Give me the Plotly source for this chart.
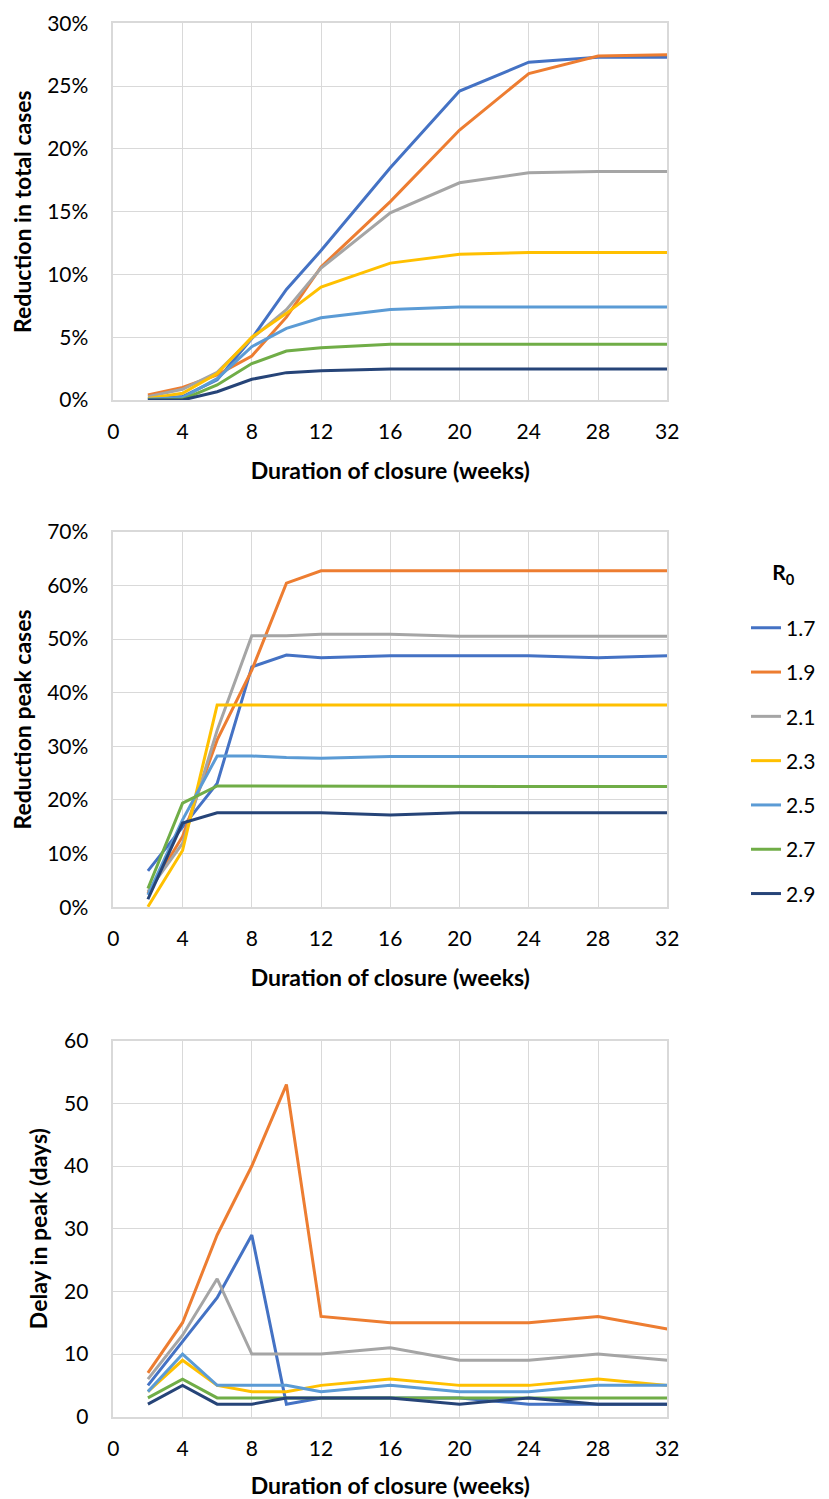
import plotly.graph_objects as go

weeks = [2, 4, 6, 8, 10, 12, 16, 20, 24, 28, 32]
r0_labels = ["1.7", "1.9", "2.1", "2.3", "2.5", "2.7", "2.9"]
colors = ["#4472C4", "#ED7D31", "#A5A5A5", "#FFC000", "#5B9BD5", "#70AD47", "#264478"]

# Reduction in total cases (%)
total_cases = {
    "1.7": [0.05, 0.27, 1.6, 4.9, 8.8, 11.9, 18.5, 24.6, 26.9, 27.3, 27.3],
    "1.9": [0.4, 1.0, 2.0, 3.5, 6.6, 10.6, 15.8, 21.5, 26.0, 27.4, 27.5],
    "2.1": [0.27, 0.85, 2.2, 4.9, 7.2, 10.5, 14.9, 17.3, 18.1, 18.2, 18.2],
    "2.3": [0.13, 0.53, 2.1, 5.0, 6.9, 9.0, 10.9, 11.6, 11.75, 11.75, 11.75],
    "2.5": [0.05, 0.2, 1.7, 4.25, 5.7, 6.55, 7.2, 7.4, 7.4, 7.4, 7.4],
    "2.7": [0.0, 0.05, 1.2, 2.9, 3.9, 4.17, 4.43, 4.43, 4.43, 4.43, 4.43],
    "2.9": [0.0, 0.0, 0.66, 1.65, 2.18, 2.33, 2.47, 2.47, 2.47, 2.47, 2.47],
}

# Reduction in peak cases (%)
peak_cases = {
    "1.7": [6.8, 15.0, 23.1, 44.8, 47.0, 46.5, 46.9, 46.9, 46.9, 46.5, 46.9],
    "1.9": [2.6, 13.2, 31.2, 44.2, 60.4, 62.7, 62.7, 62.7, 62.7, 62.7, 62.7],
    "2.1": [2.9, 11.9, 33.0, 50.6, 50.6, 50.9, 50.9, 50.5, 50.5, 50.5, 50.5],
    "2.3": [0.1, 10.6, 37.7, 37.7, 37.7, 37.7, 37.7, 37.7, 37.7, 37.7, 37.7],
    "2.5": [2.3, 16.3, 28.2, 28.2, 27.9, 27.8, 28.1, 28.1, 28.1, 28.1, 28.1],
    "2.7": [3.5, 19.4, 22.6, 22.6, 22.6, 22.5, 22.5, 22.5, 22.5, 22.5, 22.5],
    "2.9": [1.5, 15.7, 17.6, 17.6, 17.6, 17.6, 17.2, 17.6, 17.6, 17.6, 17.6],
}

# Delay in peak (days)
delay_days = {
    "1.7": [5, 12, 19, 29, 2, 3, 3, 3, 2, 2, 2],
    "1.9": [7, 15, 29, 40, 53, 16, 15, 15, 15, 16, 14],
    "2.1": [6, 13, 22, 10, 10, 10, 11, 9, 9, 10, 9],
    "2.3": [4, 9, 5, 4, 4, 5, 6, 5, 5, 6, 5],
    "2.5": [4, 10, 5, 5, 5, 4, 5, 4, 4, 5, 5],
    "2.7": [3, 6, 3, 3, 3, 3, 3, 3, 3, 3, 3],
    "2.9": [2, 5, 2, 2, 3, 3, 3, 2, 3, 2, 2],
}

x_ticks = [0, 4, 8, 12, 16, 20, 24, 28, 32]
x_title = "Duration of closure (weeks)"
y_titles = ["Reduction in total cases", "Reduction peak cases", "Delay in peak (days)"]

FONT = "Lato"
OFF = 8  # page body margin
W, H = 829 - OFF, 1499 - OFF


def px(xp):
    return (xp - OFF) / W


def py(yp):
    return 1 - (yp - OFF) / H


x_dom = [px(113.3), px(667.3)]
doms = [
    [py(400.0), py(23.3)],
    [py(907.3), py(531.7)],
    [py(1416.7), py(1040.7)],
]

fig = go.Figure()
datasets = [total_cases, peak_cases, delay_days]
for k, data in enumerate(datasets):
    ax = "" if k == 0 else str(k + 1)
    for i, r in enumerate(r0_labels):
        fig.add_trace(go.Scatter(
            x=weeks, y=data[r], mode="lines", name=r,
            line=dict(color=colors[i], width=3),
            xaxis="x" + ax, yaxis="y" + ax,
            showlegend=(k == 0), legendgroup=r,
        ))

grid = "#d9d9d9"
common_x = dict(range=[0, 32], tickvals=x_ticks, showgrid=True, gridcolor=grid, gridwidth=1.3,
                zeroline=False, showline=True, linecolor=grid, linewidth=1.5, mirror=True,
                ticks="outside", ticklen=12, tickcolor="rgba(0,0,0,0)",
                tickfont=dict(family=FONT, size=21, color="#000"),
                title=dict(text="<b>" + x_title + "</b>", font=dict(family=FONT, size=23, color="#000"),
                           standoff=21),
                automargin=False, domain=x_dom)
y_cfg = [
    dict(range=[0, 30], dtick=5, ticksuffix="%"),
    dict(range=[0, 70], dtick=10, ticksuffix="%"),
    dict(range=[0, 60], dtick=10),
]
layout = dict(width=W, height=H, margin=dict(l=0, r=0, t=0, b=0, autoexpand=False),
              paper_bgcolor="white", plot_bgcolor="white", font=dict(family=FONT, color="#000"))
for k in range(3):
    ax = "" if k == 0 else str(k + 1)
    xa = dict(common_x)
    xa["anchor"] = "y" + ax
    layout["xaxis" + ax] = xa
    ya = dict(showgrid=True, gridcolor=grid, gridwidth=1.3, zeroline=False, showline=True,
              linecolor=grid, linewidth=1.5, mirror=True,
              ticks="outside", ticklen=19, tickcolor="rgba(0,0,0,0)",
              tickfont=dict(family=FONT, size=21, color="#000"),
              title=dict(text="<b>" + y_titles[k] + "</b>", font=dict(family=FONT, size=23, color="#000"),
                         standoff=10),
              automargin=False, domain=doms[k], anchor="x" + ax)
    ya.update(y_cfg[k])
    layout["yaxis" + ax] = ya

layout["legend"] = dict(
    title=dict(text="<b>R<sub>0</sub></b><br> ", side="top center",
               font=dict(family=FONT, size=21, color="#000")),
    font=dict(family=FONT, size=21, color="#000"),
    x=px(746), xanchor="left", y=py(553), yanchor="top",
    tracegroupgap=14, bgcolor="rgba(0,0,0,0)",
)

fig.update_layout(**layout)
fig.write_html("out.html")
